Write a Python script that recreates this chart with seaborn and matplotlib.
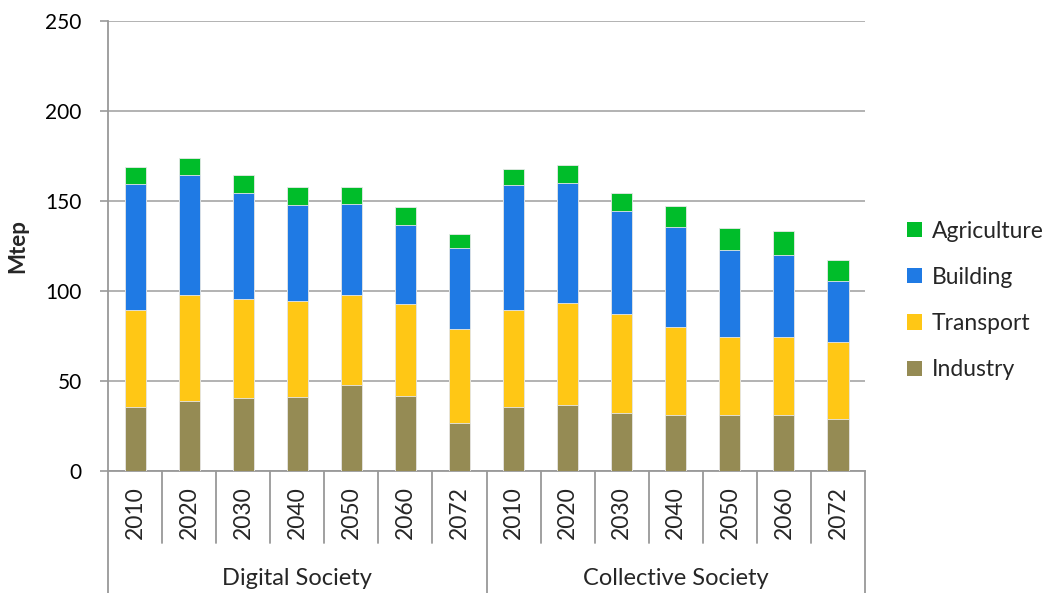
import numpy as np
import pandas as pd
import matplotlib
matplotlib.use("Agg")
import matplotlib.pyplot as plt
import matplotlib.transforms as mtransforms
from matplotlib.patches import Patch
import seaborn as sns

# dados (Mtep, valores acumulados por camada)
anos = ["2010", "2020", "2030", "2040", "2050", "2060", "2072"]
grupos = ["Digital Society", "Collective Society"]

industry = [35.7, 38.9, 40.6, 41.1, 47.6, 41.9, 26.9,
            35.7, 36.5, 32.0, 30.9, 31.3, 31.3, 28.7]
transport = [53.6, 58.7, 55.1, 53.2, 50.2, 50.7, 52.0,
             53.6, 56.8, 55.0, 48.9, 43.3, 43.0, 43.0]
building = [70.0, 66.7, 58.6, 53.7, 50.3, 44.3, 44.8,
            69.4, 66.9, 57.3, 55.9, 48.0, 45.5, 34.1]
agriculture = [9.4, 9.6, 10.1, 10.0, 9.5, 9.6, 8.2,
               9.1, 9.8, 10.1, 11.5, 12.4, 13.3, 11.4]

cores = {"Industry": "#958b54", "Transport": "#ffc715",
         "Building": "#1f7ae4", "Agriculture": "#00bd2a"}

sns.set_style("white")
plt.rcParams["font.family"] = ["Lato", "DejaVu Sans"]

n = len(industry)
df = pd.DataFrame({"pos": np.arange(n),
                   "Industry": industry,
                   "Transport": transport,
                   "Building": building,
                   "Agriculture": agriculture})
df["c_ind"] = df["Industry"]
df["c_tra"] = df["c_ind"] + df["Transport"]
df["c_bui"] = df["c_tra"] + df["Building"]
df["c_agr"] = df["c_bui"] + df["Agriculture"]

fig = plt.figure(figsize=(10.52, 5.93), dpi=100)
ax = fig.add_axes([0.1027, 0.2057, 0.7196, 0.7589])

# barras empilhadas: desenha do total para baixo
for col, nome in [("c_agr", "Agriculture"), ("c_bui", "Building"),
                  ("c_tra", "Transport"), ("c_ind", "Industry")]:
    sns.barplot(data=df, x="pos", y=col, color=cores[nome], width=0.39,
                edgecolor="#e8e8e8", linewidth=0.6, ax=ax, native_scale=True,
                saturation=1, zorder=3)

ax.set_xlim(-0.5, n - 0.5)
ax.set_ylim(0, 250)
ax.set_yticks([0, 50, 100, 150, 200, 250])
ax.yaxis.grid(True, color="#a6a6a6", linewidth=1.2, zorder=0)
ax.set_axisbelow(True)

for s in ["top", "right"]:
    ax.spines[s].set_visible(False)
ax.spines["left"].set_color("#999999")
ax.spines["bottom"].set_color("#999999")
ax.spines["left"].set_linewidth(1.3)
ax.spines["bottom"].set_linewidth(1.3)

ax.tick_params(axis="y", length=6, color="#999999", width=1.2,
               labelsize=15, labelcolor="black", left=True, pad=13)
ax.set_xticks(np.arange(n))
ax.set_xticklabels(anos * 2, rotation=90, fontsize=16.5)
ax.tick_params(axis="x", length=0, pad=11)
ax.set_xlabel("")
ax.set_ylabel("Mtep", fontsize=16, fontweight="bold", labelpad=12)

# linhas separadoras abaixo do eixo
trans = mtransforms.blended_transform_factory(ax.transData, ax.transAxes)
for i in range(n + 1):
    x = i - 0.5
    if i in (0, 7, 14):
        y0 = -0.28
    else:
        y0 = -0.16
    ax.plot([x, x], [0, y0], transform=trans, color="#999999",
            linewidth=1.3, clip_on=False)

ax.text(3.0, -0.238, grupos[0], transform=trans, ha="center", va="center",
        fontsize=17)
ax.text(10.0, -0.238, grupos[1], transform=trans, ha="center", va="center",
        fontsize=17)

handles = [Patch(facecolor=cores[k], edgecolor="none")
           for k in ["Agriculture", "Building", "Transport", "Industry"]]
ax.legend(handles, ["Agriculture", "Building", "Transport", "Industry"],
          loc="center left", bbox_to_anchor=(1.04, 0.379), frameon=False,
          fontsize=16.5, handlelength=0.65, handleheight=0.65,
          handletextpad=0.45, labelspacing=1.1, borderpad=0)

plt.savefig("out.png", dpi=100)
